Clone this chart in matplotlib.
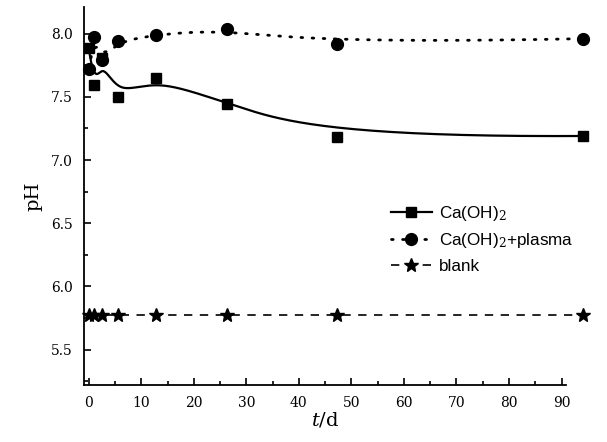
import numpy as np
import matplotlib
matplotlib.use("Agg")
import matplotlib.pyplot as plt
from matplotlib.ticker import MultipleLocator

# values (x positions as drawn against the tick labels)
t = [0, 1, 2.5, 5.5, 12.8, 26.4, 47.3, 94]
ph_caoh = [7.886, 7.59, 7.81, 7.50, 7.65, 7.44, 7.18, 7.19]
ph_plasma = [7.72, 7.97, 7.79, 7.94, 7.99, 8.04, 7.92, 7.96]
ph_blank = [5.77, 5.77, 5.77, 5.77, 5.77, 5.77, 5.77, 5.77]

labels = ["Ca(OH)$_2$", "Ca(OH)$_2$+plasma", "blank"]


def bspline(xs, ys, n=400, k=3):
    # clamped B-spline, data points used as control points (Origin style)
    P = np.column_stack([xs, ys]).astype(float)
    m = len(P)
    inner = np.arange(1, m - k)
    knots = np.concatenate([np.zeros(k + 1), inner, np.full(k + 1, m - k)]).astype(float)
    u = np.linspace(0, m - k, n)
    u[-1] -= 1e-9
    N = np.zeros((n, len(knots) - 1))
    for i in range(len(knots) - 1):
        N[:, i] = (u >= knots[i]) & (u < knots[i + 1])
    for d in range(1, k + 1):
        Nn = np.zeros((n, len(knots) - 1 - d))
        for i in range(len(knots) - 1 - d):
            a = knots[i + d] - knots[i]
            b = knots[i + d + 1] - knots[i + 1]
            left = (u - knots[i]) / a * N[:, i] if a > 0 else 0
            right = (knots[i + d + 1] - u) / b * N[:, i + 1] if b > 0 else 0
            Nn[:, i] = left + right
        N = Nn
    C = N @ P
    return C[:, 0], C[:, 1]


plt.rcParams['font.family'] = 'DejaVu Serif'
plt.rcParams['mathtext.fontset'] = 'dejavuserif'

fig = plt.figure(figsize=(6.07, 4.42), dpi=100)
ax = fig.add_axes([0.138, 0.129, 0.794, 0.855])

sx, sy = bspline(t, ph_caoh)
ax.plot(sx, sy, color='black', lw=1.6, clip_on=False)
sx, sy = bspline(t, ph_plasma)
ax.plot(sx, sy, color='black', lw=2.0, ls=(0, (0.6, 3.4)), dash_capstyle='round', clip_on=False)
ax.plot(t, ph_blank, color='black', lw=1.2, ls=(0, (5, 4.5)), clip_on=False)

ax.plot(t, ph_caoh, 's', color='black', ms=7.5, clip_on=False)
ax.plot(t, ph_plasma, 'o', color='black', ms=8.5, clip_on=False)
ax.plot(t, ph_blank, '*', color='black', ms=10, clip_on=False)

# legend handles
h1, = ax.plot([], [], '-s', color='black', lw=1.6, ms=7.5)
h2, = ax.plot([], [], 'o', color='black', lw=2.0, ms=8.5,
              ls=(0, (0.6, 3.4)), dash_capstyle='round')
h3, = ax.plot([], [], '*', color='black', lw=1.2, ms=10, ls=(0, (5, 4.5)))
ax.legend([h1, h2, h3], labels, loc='upper left', bbox_to_anchor=(0.605, 0.52),
          frameon=False, handlelength=2.4, handletextpad=0.4, labelspacing=0.5,
          prop={'family': 'Liberation Sans', 'size': 12.3})

ax.set_xlim(-0.95, 90.8)
ax.set_ylim(5.22, 8.21)
ax.xaxis.set_major_locator(MultipleLocator(10))
ax.xaxis.set_minor_locator(MultipleLocator(5))
ax.yaxis.set_major_locator(MultipleLocator(0.5))
ax.yaxis.set_minor_locator(MultipleLocator(0.25))
ax.yaxis.set_major_formatter(matplotlib.ticker.FormatStrFormatter('%.1f'))
ax.tick_params(which='both', direction='in', width=1.2, labelsize=10, pad=8, top=False, right=False)
ax.tick_params(which='major', length=5)
ax.tick_params(which='minor', length=3)

for s in ['top', 'right']:
    ax.spines[s].set_visible(False)
for s in ['left', 'bottom']:
    ax.spines[s].set_linewidth(1.3)

ax.set_xlabel('$t$/d', fontsize=14, labelpad=0)
ax.set_ylabel('pH', fontsize=14, labelpad=6)

fig.savefig('out.png', dpi=100)
